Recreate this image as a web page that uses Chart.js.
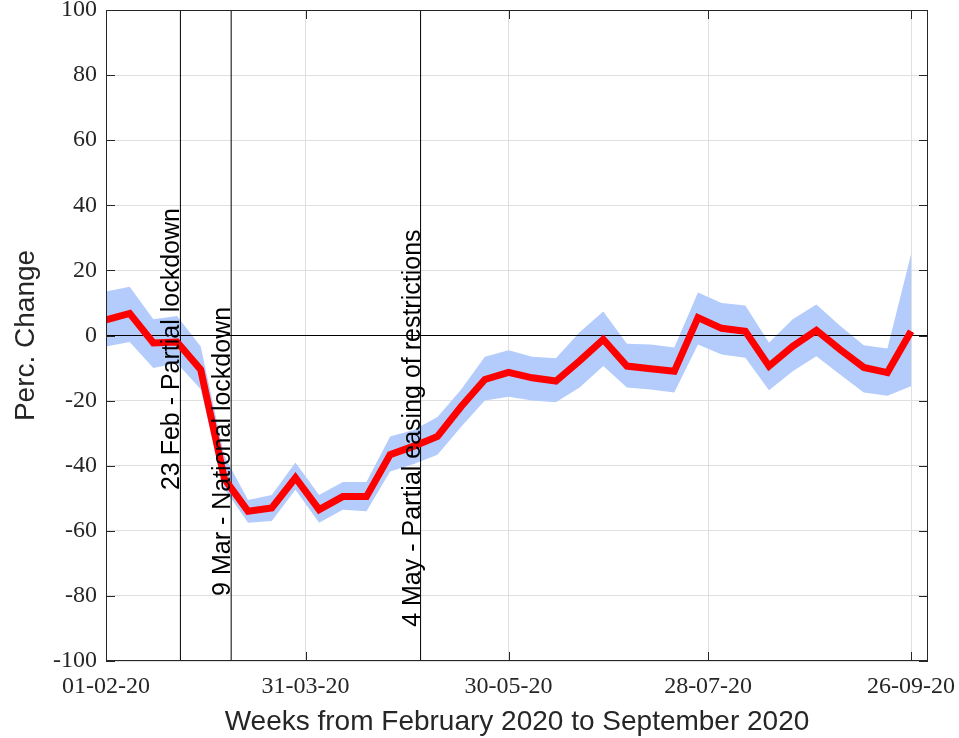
<!DOCTYPE html>
<html>
<head>
<meta charset="utf-8">
<script src="https://cdn.jsdelivr.net/npm/chart.js@4.4.0/dist/chart.umd.min.js"></script>
<style>
  html, body { margin: 0; padding: 0; background: #fff; overflow: hidden; }
  .canvas-container { position: absolute; left: 0; top: -30px; width: 959px; height: 800px; }
</style>
</head>
<body>
<div class="canvas-container"><canvas id="myChart" width="959" height="800"></canvas></div>
<script>
// weekly points, dd-mm-yy
const weeks = ['01-02-20', '08-02-20', '15-02-20', '22-02-20', '29-02-20', '07-03-20', '14-03-20',
    '21-03-20', '28-03-20', '04-04-20', '11-04-20', '18-04-20', '25-04-20', '02-05-20', '09-05-20',
    '16-05-20', '23-05-20', '30-05-20', '06-06-20', '13-06-20', '20-06-20', '27-06-20', '04-07-20',
    '11-07-20', '18-07-20', '25-07-20', '01-08-20', '08-08-20', '15-08-20', '22-08-20', '29-08-20',
    '05-09-20', '12-09-20', '19-09-20', '26-09-20'];
const meanChange = [4.8, 6.8, -2.3, -2, -10.5, -44, -54, -53, -43.7, -53.5, -49.5, -49.5, -36.6, -34,
    -31, -21.8, -13.5, -11.3, -13, -14, -7.8, -1.2, -9.4, -10.2, -11, 5.5, 2.2, 1.3, -9.4, -3.3, 1.6,
    -4.3, -9.8, -11.4, 1.3];
const upperBound = [13.5, 15, 5, 6, -3.4, -37, -50.5, -49, -39, -49, -45, -45, -31, -29, -25, -16.6,
    -6.5, -4.5, -6.5, -7, 1, 7.4, -2.5, -2.8, -3.7, 13.2, 10, 9.2, -2.2, 5, 9.5, 3, -3, -4, 25];
const lowerBound = [-3.4, -2, -10, -8.5, -16.5, -47, -57.5, -57, -47.4, -57.5, -53.5, -54, -41.8, -39.5,
    -36.6, -28, -20, -18.8, -20, -20.5, -16, -9.4, -16, -16.6, -17.5, -2.8, -5.8, -6.8, -16.8, -11, -6.4,
    -12, -17.5, -18.5, -15.6];

const eventDates = ['23-02-20', '09-03-20', '04-05-20'];
const eventLabels = ['23 Feb - Partial lockdown', '9 Mar - National lockdown', '4 May - Partial easing of restrictions'];
const eventTextY = [-47.5, -80, -89.5];

const xTickLabels = ['01-02-20', '31-03-20', '30-05-20', '28-07-20', '26-09-20'];
const xEnd = '01-10-20';

const dayOf = s => {
    const [d, m, y] = s.split('-').map(Number);
    return (Date.UTC(2000 + y, m - 1, d) - Date.UTC(2020, 1, 1)) / 86400000;
};

const axisColor = '#262626';
const toPoints = vals => weeks.map((w, i) => ({ x: dayOf(w), y: vals[i] }));

const eventSets = eventDates.map(d => ({
    data: [{ x: dayOf(d), y: -100 }, { x: dayOf(d), y: 100 }],
    borderColor: '#000',
    borderWidth: 1,
    pointRadius: 0,
    fill: false,
    order: 2
}));

// box + inward tick marks, then the rotated event labels
const framePlugin = {
    id: 'frame',
    afterDatasetsDraw(chart) {
        const { ctx, chartArea: a, scales: { x, y } } = chart;
        ctx.save();
        ctx.strokeStyle = axisColor;
        ctx.lineWidth = 1;
        ctx.strokeRect(a.left + 0.5, a.top + 0.5, a.right - a.left - 1, a.bottom - a.top - 1);
        ctx.beginPath();
        y.ticks.forEach(t => {
            const py = Math.round(y.getPixelForValue(t.value)) + 0.5;
            ctx.moveTo(a.left, py); ctx.lineTo(a.left + 9, py);
            ctx.moveTo(a.right, py); ctx.lineTo(a.right - 9, py);
        });
        x.ticks.forEach(t => {
            const px = Math.round(x.getPixelForValue(t.value)) + 0.5;
            ctx.moveTo(px, a.bottom); ctx.lineTo(px, a.bottom - 9);
            ctx.moveTo(px, a.top); ctx.lineTo(px, a.top + 9);
        });
        ctx.stroke();

        ctx.font = '25px "Liberation Sans", Arial, sans-serif';
        ctx.fillStyle = '#000';
        ctx.textAlign = 'left';
        ctx.textBaseline = 'alphabetic';
        eventDates.forEach((d, i) => {
            ctx.save();
            ctx.translate(x.getPixelForValue(dayOf(d)) - 1, y.getPixelForValue(eventTextY[i]));
            ctx.rotate(-Math.PI / 2);
            ctx.fillText(eventLabels[i], 0, 0);
            ctx.restore();
        });
        ctx.restore();
    }
};

const ctx = document.querySelector('#myChart');

const myChart = new Chart(ctx, {
    type: 'line',
    data: {
        datasets: [
            {
                label: 'Upper',
                data: toPoints(upperBound),
                borderWidth: 0,
                pointRadius: 0,
                backgroundColor: 'rgb(179,204,252)',
                fill: '+1',
                order: 4
            },
            {
                label: 'Lower',
                data: toPoints(lowerBound),
                borderWidth: 0,
                pointRadius: 0,
                fill: false,
                order: 4
            },
            {
                label: 'Zero',
                data: [{ x: 0, y: 0 }, { x: dayOf(xEnd), y: 0 }],
                borderColor: '#000',
                borderWidth: 1,
                pointRadius: 0,
                fill: false,
                order: 3
            },
            ...eventSets,
            {
                label: 'Mean',
                data: toPoints(meanChange),
                borderColor: '#ff0000',
                borderWidth: 7,
                pointRadius: 0,
                fill: false,
                order: 1
            }
        ]
    },
    options: {
        responsive: false,
        animation: false,
        layout: { padding: { top: 40, right: 31, bottom: 0, left: 0 } },
        plugins: { legend: { display: false }, tooltip: { enabled: false } },
        scales: {
            x: {
                type: 'linear',
                min: 0,
                max: dayOf(xEnd),
                afterFit: s => { s.height = 109; s.paddingLeft = 0; s.paddingRight = 0; },
                afterBuildTicks: s => { s.ticks = xTickLabels.map(l => ({ value: dayOf(l) })); },
                grid: { color: 'rgb(223,223,223)', drawTicks: false },
                border: { display: false },
                ticks: {
                    autoSkip: false,
                    maxRotation: 0,
                    padding: 11,
                    color: axisColor,
                    font: { family: '"Liberation Serif", "Times New Roman", serif', size: 24 },
                    callback: (v, i) => xTickLabels[i]
                },
                title: {
                    display: true,
                    text: 'Weeks from February 2020 to September 2020',
                    color: axisColor,
                    font: { family: '"Liberation Sans", Arial, sans-serif', size: 28 },
                    padding: { top: 0, bottom: 31 }
                }
            },
            y: {
                min: -100,
                max: 100,
                afterFit: s => { s.width = 106; s.paddingTop = 0; s.paddingBottom = 0; },
                grid: { color: 'rgb(223,223,223)', drawTicks: false },
                border: { display: false },
                ticks: {
                    stepSize: 20,
                    padding: 9,
                    color: axisColor,
                    font: { family: '"Liberation Serif", "Times New Roman", serif', size: 24 }
                },
                title: {
                    display: true,
                    text: 'Perc. Change',
                    color: axisColor,
                    font: { family: '"Liberation Sans", Arial, sans-serif', size: 28 },
                    padding: { top: 9, bottom: 0 }
                }
            }
        }
    },
    plugins: [framePlugin]
});
</script>
</body>
</html>
